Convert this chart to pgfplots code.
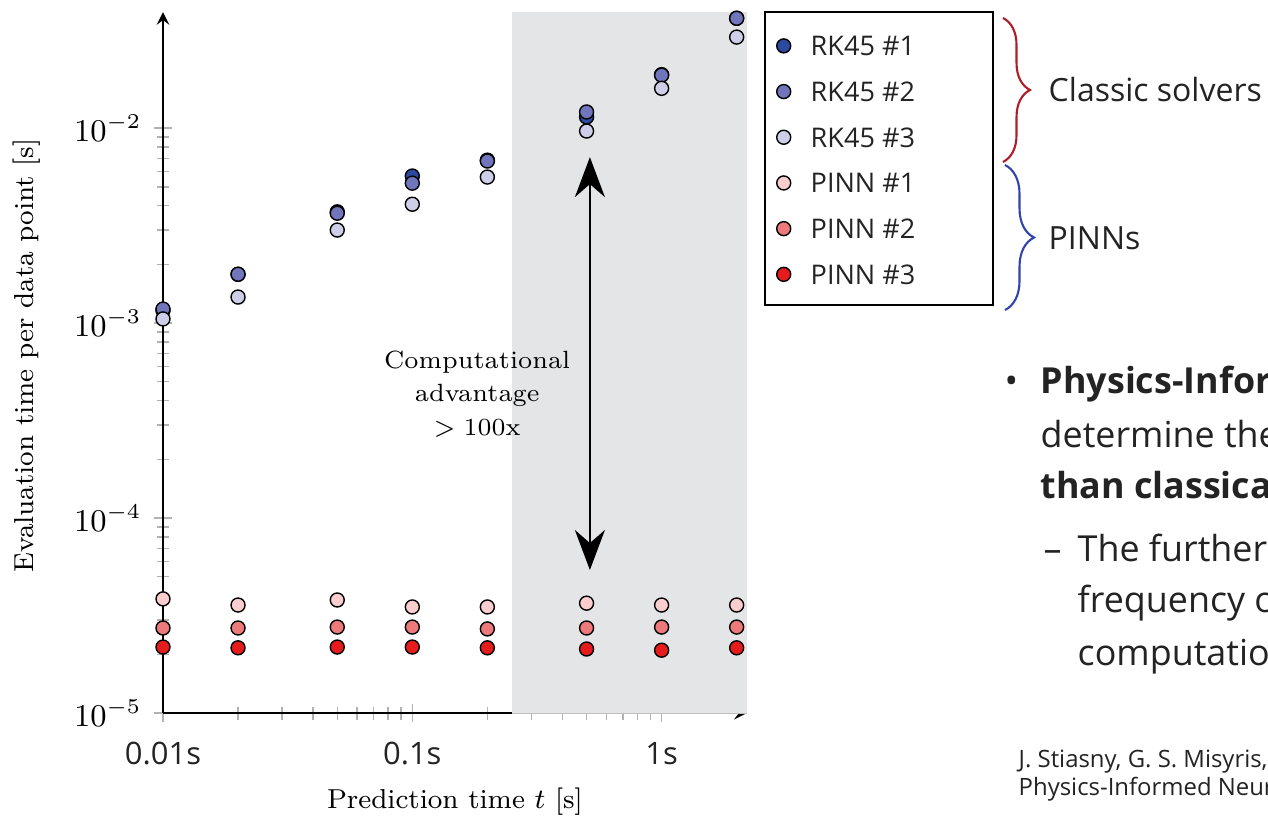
\documentclass[border=0pt]{standalone}
\usepackage{fontspec}
\usepackage{pgfplots}
\pgfplotsset{compat=1.18}
\usetikzlibrary{arrows.meta,decorations.pathreplacing}
\newfontfamily\slide{Open Sans}
\definecolor{rkA}{RGB}{44,74,160}
\definecolor{rkB}{RGB}{112,117,188}
\definecolor{rkC}{RGB}{206,206,232}
\definecolor{piA}{RGB}{250,206,206}
\definecolor{piB}{RGB}{236,122,122}
\definecolor{piC}{RGB}{230,28,28}
\definecolor{bgshade}{RGB}{228,229,230}
\definecolor{bred}{RGB}{172,30,40}
\definecolor{bblue}{RGB}{48,68,170}
\definecolor{slidetext}{RGB}{35,35,35}

\pgfplotstableread{
x      rkA      rkB      rkC      piA      piB      piC
0.01   1.16e-3  1.18e-3  1.05e-3  3.85e-5  2.73e-5  2.18e-5
0.02   1.78e-3  1.78e-3  1.36e-3  3.58e-5  2.73e-5  2.16e-5
0.05   3.72e-3  3.66e-3  3.00e-3  3.80e-5  2.76e-5  2.18e-5
0.1    5.68e-3  5.22e-3  4.07e-3  3.50e-5  2.76e-5  2.18e-5
0.2    6.85e-3  6.78e-3  5.61e-3  3.50e-5  2.70e-5  2.16e-5
0.5    1.14e-2  1.21e-2  9.66e-3  3.66e-5  2.73e-5  2.13e-5
1      1.88e-2  1.87e-2  1.60e-2  3.58e-5  2.76e-5  2.10e-5
2      3.66e-2  3.66e-2  2.93e-2  3.58e-5  2.76e-5  2.16e-5
}\datatable

\begin{document}
\begin{tikzpicture}
\useasboundingbox (0,0) rectangle (126.8mm,-81.7mm);
\begin{axis}[
  at={(16.3mm,-71.3mm)}, anchor=south west,
  scale only axis, width=58.4mm, height=70.1mm,
  xmode=log, ymode=log,
  xmin=0.01, xmax=2.2, ymin=1e-5, ymax=0.0394,
  clip=false,
  axis lines=left,
  axis line style={line width=0.6pt},
  xtick={0.01,0.1,1}, xticklabels={0.01s,0.1s,1s},
  ytick={1e-5,1e-4,1e-3,1e-2},
  tick align=center,
  major tick length=1.8mm, minor tick length=1.3mm,
  tick style={gray!60, line width=0.4pt},
  xticklabel style={font=\slide\fontsize{8.8}{10}\selectfont, text=slidetext, yshift=-0.8mm},
  yticklabel style={font=\fontsize{8.6}{10}\selectfont},
  xlabel={Prediction time $t$ [s]},
  ylabel={Evaluation time per data point [s]},
  label style={font=\fontsize{7.8}{9}\selectfont},
  xlabel style={at={(axis description cs:0.5,-0.127)}, anchor=center},
  ylabel style={at={(axis description cs:-0.234,0.51)}, anchor=center},
  legend style={draw=none, fill=none, at={(axis description cs:1.0497,0.967)}, anchor=north west,
    font=\slide\fontsize{7.7}{9}\selectfont, text=slidetext, inner sep=0pt, row sep=7.3pt, column sep=2mm,
    nodes={inner sep=0pt, text height=5.7pt, text depth=0pt}},
  legend cell align=left,
  every axis plot/.append style={only marks, mark=*, mark size=0.7mm, mark options={draw=black, line width=0.35pt}},
]
\fill[bgshade] (rel axis cs:0.5976,0) rectangle (rel axis cs:1,1);
\draw[gray!50, line width=0.3pt] (rel axis cs:0.5976,0) -- (rel axis cs:1,0);

\addplot[mark options={fill=rkA}] table[x=x,y=rkA] {\datatable};
\addlegendentry{RK45 \#1}
\addplot[mark options={fill=rkB}] table[x=x,y=rkB] {\datatable};
\addlegendentry{RK45 \#2}
\addplot[mark options={fill=rkC}] table[x=x,y=rkC] {\datatable};
\addlegendentry{RK45 \#3}
\addplot[mark options={fill=piA}] table[x=x,y=piA] {\datatable};
\addlegendentry{PINN \#1}
\addplot[mark options={fill=piB}] table[x=x,y=piB] {\datatable};
\addlegendentry{PINN \#2}
\addplot[mark options={fill=piC}] table[x=x,y=piC] {\datatable};
\addlegendentry{PINN \#3}

\draw[line width=0.7pt, {Stealth[length=4mm,width=3mm,inset=1.3mm]}-{Stealth[length=4mm,width=3mm,inset=1.3mm]}]
  (rel axis cs:0.731,0.793) -- (rel axis cs:0.731,0.204);
\node[align=center, font=\fontsize{7.1}{9.6}\selectfont] at (rel axis cs:0.538,0.455)
  {Computational\\advantage\\$>100$x};
\end{axis}

\begin{scope}
\clip (0,0) rectangle (126.8mm,-81.7mm);
\begin{scope}[x=0.1mm,y=-0.1mm]
  % legend frame
  \draw[line width=0.8pt] (765,12) rectangle (993,305);
  % braces
  \draw[bred, line width=0.6pt, decorate, decoration={brace, amplitude=2.7mm}] (1003,18) -- (1003,162);
  \draw[bblue, line width=0.6pt, decorate, decoration={brace, amplitude=2.9mm}] (1005,165) -- (1005,310);
  \node[anchor=west, inner sep=0pt, font=\slide\fontsize{9.1}{11}\selectfont, text=slidetext] at (1048,90) {Classic solvers};
  \node[anchor=west, inner sep=0pt, font=\slide\fontsize{9.1}{11}\selectfont, text=slidetext] at (1048,238) {PINNs};
  % bullet text
  \begin{scope}[every node/.style={anchor=base west, inner sep=0pt, text=slidetext}]
    \node[font=\slide\fontsize{10.2}{12}\selectfont] at (1004,393) {\textbullet};
    \node[font=\slide\bfseries\fontsize{10.2}{12}\selectfont] at (1040,393) {Physics-Informed Neural Networks can};
    \node[font=\slide\fontsize{10.2}{12}\selectfont] at (1040,447) {determine the solution \textbf{up to 100 times faster}};
    \node[font=\slide\bfseries\fontsize{10.2}{12}\selectfont] at (1040,498) {than classical solvers};
    \node[font=\slide\fontsize{10.2}{12}\selectfont] at (1043,561) {\textendash};
    \node[font=\slide\fontsize{10.2}{12}\selectfont] at (1077,561) {The further ahead the prediction,};
    \node[font=\slide\fontsize{10.2}{12}\selectfont] at (1077,612) {frequency of evaluation, the higher the};
    \node[font=\slide\fontsize{10.2}{12}\selectfont] at (1077,665) {computational advantage};
    \node[font=\slide\fontsize{6.8}{8}\selectfont] at (1018,767) {J. Stiasny, G. S. Misyris, S. Chatzivasileiadis,};
    \node[font=\slide\fontsize{6.8}{8}\selectfont] at (1018,795) {Physics-Informed Neural Networks for Non-linear System Identification};
  \end{scope}
\end{scope}
\end{scope}
\end{tikzpicture}
\end{document}
